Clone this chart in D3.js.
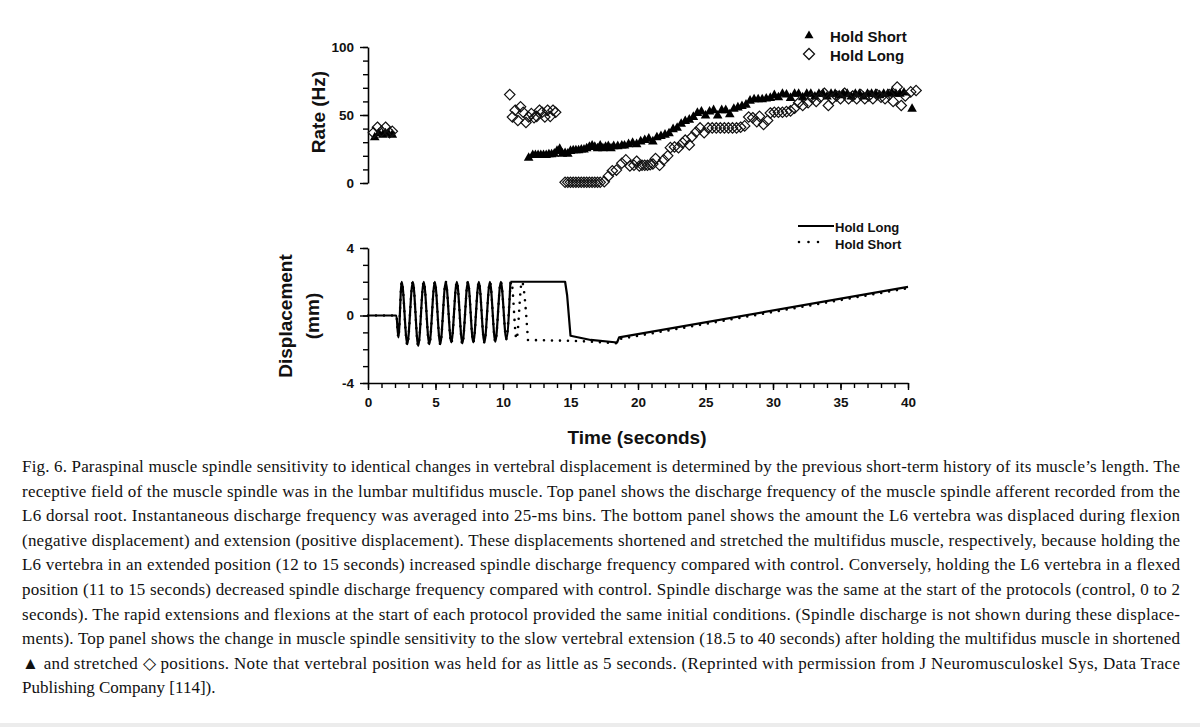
<!DOCTYPE html>
<html><head><meta charset="utf-8">
<script src="https://cdn.jsdelivr.net/npm/d3@7"></script>
<style>body{margin:0;background:#fff}svg{display:block}</style>
</head><body>
<svg id="c" width="1200" height="727"></svg>
<script>
// ---- data ----
// Top panel: discharge rate (Hz) vs time (s)  [time, rate]
const holdShortRate = [
 [0.5,34],[0.8,37],[1.1,36],[1.3,37],[1.5,37],[1.8,36],
 [11.9,19],[12.2,21],[12.4,21],[12.6,21],[12.8,21],[13.0,21],[13.2,21],[13.4,21.5],[13.6,21.5],[13.8,22],
 [14.0,24],[14.2,25.5],[14.4,22],[14.6,22.5],[14.8,22],[15.0,24],[15.2,24.5],[15.4,24.5],[15.6,24.5],[15.8,25],
 [16.0,25],[16.2,26],[16.4,27],[16.6,28],[16.8,27],[17.0,26],[17.2,28],[17.4,26],[17.6,27],[17.8,27.5],
 [18.0,26],[18.2,27.5],[18.5,27.5],[18.8,28],[19.0,28],[19.3,29],[19.6,30],[19.9,29],[20.2,31],[20.5,32],
 [20.8,33],[21.1,31],[21.4,34],[21.7,35],[22.0,36],[22.3,37],[22.6,40],[22.9,41],[23.2,44],[23.5,46],
 [23.8,47],[24.1,49],[24.4,52],[24.7,53],[25.0,50],[25.3,53],[25.6,54],[25.9,50],[26.2,54],[26.5,54],
 [26.8,51],[27.1,55],[27.4,56],[27.7,57],[28.0,58],[28.3,61],[28.6,62],[28.9,62],[29.2,62],[29.5,62.5],
 [29.8,63],[30.1,65],[30.4,63.5],[30.7,66],[31.0,65.5],[31.3,63],[31.6,66],[31.9,66],[32.2,63.5],[32.5,66],
 [32.8,66],[33.1,64],[33.4,66],[33.7,66],[34.0,64],[34.3,66],[34.6,66],[34.9,65],[35.2,66],[35.5,66],
 [35.8,64],[36.1,66],[36.4,66],[36.7,64],[37.0,66],[37.3,66],[37.6,66],[37.9,65],[38.2,66],[38.5,66],
 [38.8,67],[39.1,66],[39.4,66],[39.7,67],[40.3,55]
];
const holdLongRate = [
 [0.4,37],[0.7,41],[1.0,38],[1.3,41],[1.6,37],[1.8,38],
 [10.5,65],[10.7,48.5],[10.9,53.5],[11.1,46],[11.3,56],[11.5,52],[11.7,44.5],[11.9,48.5],[12.1,51],[12.3,48],
 [12.5,49],[12.7,53.5],[12.9,52],[13.1,48.5],[13.3,53.5],[13.5,49],[13.7,53.5],[13.9,52],
 [14.6,0.5],[14.8,0.5],[15.0,0.5],[15.2,0.5],[15.4,0.5],[15.6,0.5],[15.8,0.5],[16.0,0.5],[16.2,0.5],[16.4,0.5],
 [16.6,0.5],[16.8,0.5],[17.0,0.5],[17.2,0.5],[17.5,1],[17.8,5],[18.1,9],[18.4,9.5],[18.8,14.5],[19.1,17],
 [19.4,12.5],[19.7,13],[19.9,16],[20.1,12.5],[20.3,13],[20.5,13],[20.7,13],[20.9,13.5],[21.1,14],[21.3,18],
 [21.6,13],[21.9,17],[22.2,20],[22.4,26],[22.7,26.5],[23.0,26],[23.3,29.5],[23.5,31.5],[23.8,28],[24.0,34],
 [24.3,37.5],[24.6,40.5],[24.9,37],[25.2,40.5],[25.5,40.5],[25.8,40.5],[26.1,40.5],[26.4,40.5],[26.7,40.5],[27.0,40.5],
 [27.3,40.5],[27.6,41],[27.9,42],[28.2,48.5],[28.5,48],[28.8,45],[29.0,49],[29.3,43],[29.6,46],[29.8,51.5],
 [30.1,52],[30.4,52],[30.7,52],[31.0,52.5],[31.3,53],[31.6,55],[31.9,59],[32.2,57],[32.6,59],[32.9,62.5],
 [33.2,60],[33.5,63],[33.8,66],[34.1,57],[34.4,62],[34.7,64],[35.0,62],[35.3,66],[35.6,62],[35.9,64],
 [36.2,62],[36.5,65],[36.8,62],[37.1,64],[37.4,62],[37.7,65],[38.0,63],[38.3,62],[38.6,65],[38.9,60],
 [39.2,70.5],[39.5,57],[39.8,64],[40.2,67],[40.6,68]
];
// Bottom panel: displacement (mm) vs time (s)  [time, mm]
// rapid oscillation phase (smoothed)
const holdLongOsc = [
 [0,0],[2.1,0],[2.25,-1.3],[2.5,2],[2.91,-1.7],[3.32,2],[3.72,-1.8],[4.13,2],[4.54,-1.7],[4.95,2],
 [5.35,-1.7],[5.76,2],[6.17,-1.6],[6.58,2],[6.99,-1.65],[7.4,2],[7.8,-1.6],[8.21,2],[8.62,-1.6],[9.03,2],
 [9.43,-1.55],[9.84,2],[10.25,-1.4],[10.55,2]
];
// hold + slow extension phase (straight segments)
const holdLongRamp = [
 [10.55,2],[14.6,2],[14.75,1.2],[15.0,-1.2],[16.5,-1.45],[18.45,-1.6],[18.6,-1.3],[40,1.7]
];
const holdShortOsc = [
 [0,0],[2.1,0],[2.25,-1.3],[2.5,2],[2.91,-1.75],[3.32,2],[3.72,-1.8],[4.13,2],[4.54,-1.75],[4.95,2],
 [5.35,-1.7],[5.76,2],[6.17,-1.65],[6.58,2],[6.99,-1.7],[7.4,2],[7.8,-1.6],[8.21,2],[8.62,-1.6],[9.03,2],
 [9.43,-1.55],[9.84,2],[10.25,-1.4],[10.62,2],[11.0,-1.4],[11.4,2],[11.85,-1.45]
];
const holdShortRamp = [
 [11.85,-1.45],[15.0,-1.5],[16.5,-1.55],[18.45,-1.65],[18.6,-1.4],[40,1.62]
];
const rateTicks = [0, 50, 100];
const dispTicks = [-4, 0, 4];
const timeTicks = [0, 5, 10, 15, 20, 25, 30, 35, 40];
const caption = [
 "Fig. 6. Paraspinal muscle spindle sensitivity to identical changes in vertebral displacement is determined by the previous short-term history of its muscle\u2019s length. The",
 "receptive field of the muscle spindle was in the lumbar multifidus muscle. Top panel shows the discharge frequency of the muscle spindle afferent recorded from the",
 "L6 dorsal root. Instantaneous discharge frequency was averaged into 25-ms bins. The bottom panel shows the amount the L6 vertebra was displaced during flexion",
 "(negative displacement) and extension (positive displacement). These displacements shortened and stretched the multifidus muscle, respectively, because holding the",
 "L6 vertebra in an extended position (12 to 15 seconds) increased spindle discharge frequency compared with control. Conversely, holding the L6 vertebra in a flexed",
 "position (11 to 15 seconds) decreased spindle discharge frequency compared with control. Spindle discharge was the same at the start of the protocols (control, 0 to 2",
 "seconds). The rapid extensions and flexions at the start of each protocol provided the same initial conditions. (Spindle discharge is not shown during these displace-",
 "ments). Top panel shows the change in muscle spindle sensitivity to the slow vertebral extension (18.5 to 40 seconds) after holding the multifidus muscle in shortened",
 "\u25B2 and stretched \u25C7 positions. Note that vertebral position was held for as little as 5 seconds. (Reprinted with permission from J Neuromusculoskel Sys, Data Trace",
 "Publishing Company [114])."
];

// ---- drawing ----
const svg = d3.select("#c");
const SANS = "Liberation Sans, Arial, sans-serif";
const x = d3.scaleLinear([0, 40], [368, 908]);
const yTop = d3.scaleLinear([0, 100], [183, 47]);
const yBot = d3.scaleLinear([-4, 4], [383, 248]);
const fmt = d => String(d);

function styleAxis(g, fs) {
  g.select(".domain").attr("stroke", "#000").attr("stroke-width", 1.6);
  g.selectAll(".tick line").attr("stroke", "#000").attr("stroke-width", 1.4);
  g.selectAll("text").attr("font-family", SANS).attr("font-weight", "bold")
    .attr("font-size", fs).attr("fill", "#111");
}

// Top y axis (minor then major)
const gTopMinor = svg.append("g").attr("transform", "translate(368,0)")
  .call(d3.axisLeft(yTop).tickValues(d3.range(0, 101, 10)).tickSize(5).tickFormat("").tickSizeOuter(0));
styleAxis(gTopMinor, 13);
const gTop = svg.append("g").attr("transform", "translate(368,0)")
  .call(d3.axisLeft(yTop).tickValues(rateTicks).tickSize(8).tickPadding(6).tickSizeOuter(0).tickFormat(fmt));
styleAxis(gTop, 13.5);
gTop.select(".domain").remove();

// Bottom y axis
const gBotMinor = svg.append("g").attr("transform", "translate(368,0)")
  .call(d3.axisLeft(yBot).tickValues(d3.range(-4, 5, 1)).tickSize(5).tickFormat("").tickSizeOuter(0));
styleAxis(gBotMinor, 13);
const gBot = svg.append("g").attr("transform", "translate(368,0)")
  .call(d3.axisLeft(yBot).tickValues(dispTicks).tickSize(8).tickPadding(6).tickSizeOuter(0).tickFormat(fmt));
styleAxis(gBot, 13.5);
gBot.select(".domain").remove();

// Bottom x axis
const gXMinor = svg.append("g").attr("transform", "translate(0,383)")
  .call(d3.axisBottom(x).tickValues(d3.range(0, 41, 1)).tickSize(5).tickFormat("").tickSizeOuter(0));
styleAxis(gXMinor, 13);
const gX = svg.append("g").attr("transform", "translate(0,383)")
  .call(d3.axisBottom(x).tickValues(timeTicks).tickSize(7).tickPadding(7).tickSizeOuter(0).tickFormat(fmt));
styleAxis(gX, 13.5);
gX.select(".domain").remove();

// Axis titles
function title(tr, txt) {
  svg.append("text").attr("transform", tr)
    .attr("text-anchor", "middle").attr("dominant-baseline", "central")
    .attr("font-family", SANS).attr("font-weight", "bold").attr("font-size", 19).attr("fill", "#111")
    .text(txt);
}
title("translate(318,112) rotate(-90)", "Rate (Hz)");
title("translate(285,316) rotate(-90)", "Displacement");
title("translate(312,316) rotate(-90)", "(mm)");
title("translate(637,437)", "Time (seconds)");

// Top panel markers
const triPath = "M0,-5L4.8,3.6L-4.8,3.6Z";
const diaPath = "M0,-5.2L5.2,0L0,5.2L-5.2,0Z";
svg.append("g").selectAll("path").data(holdShortRate).join("path")
  .attr("d", triPath).attr("transform", d => `translate(${x(d[0])},${yTop(d[1])})`)
  .attr("fill", "#000");
svg.append("g").selectAll("path").data(holdLongRate).join("path")
  .attr("d", diaPath).attr("transform", d => `translate(${x(d[0])},${yTop(d[1])})`)
  .attr("fill", "none").attr("stroke", "#111").attr("stroke-width", 1.2);

// Top legend
svg.append("path").attr("d", "M0,-4.5L4.5,3.2L-4.5,3.2Z").attr("transform", "translate(809,35)").attr("fill", "#000");
svg.append("path").attr("d", "M0,-5.5L5.5,0L0,5.5L-5.5,0Z").attr("transform", "translate(809,54)")
  .attr("fill", "none").attr("stroke", "#111").attr("stroke-width", 1.3);
[["Hold Short", 36], ["Hold Long", 55]].forEach(([t, yy]) =>
  svg.append("text").attr("x", 830).attr("y", yy).attr("dominant-baseline", "central")
    .attr("font-family", SANS).attr("font-weight", "bold").attr("font-size", 15).attr("fill", "#111").text(t));

// Bottom panel lines
const smooth = d3.line().x(d => x(d[0])).y(d => yBot(d[1])).curve(d3.curveMonotoneX);
const straight = d3.line().x(d => x(d[0])).y(d => yBot(d[1]));
const dotted = p => p.attr("fill", "none").attr("stroke", "#000").attr("stroke-width", 2.6)
  .attr("stroke-linecap", "round").attr("stroke-dasharray", "0 8");
const solid = p => p.attr("fill", "none").attr("stroke", "#000").attr("stroke-width", 2.2)
  .attr("stroke-linejoin", "round");
svg.append("path").datum(holdShortOsc).attr("d", smooth).call(dotted);
svg.append("path").datum(holdShortRamp).attr("d", straight).call(dotted);
svg.append("path").datum(holdLongOsc).attr("d", smooth).call(solid);
svg.append("path").datum(holdLongRamp).attr("d", straight).call(solid);

// Bottom legend
svg.append("line").attr("x1", 798).attr("x2", 834).attr("y1", 226).attr("y2", 226)
  .attr("stroke", "#000").attr("stroke-width", 2.2);
svg.append("line").attr("x1", 799).attr("x2", 820).attr("y1", 242).attr("y2", 242)
  .attr("stroke", "#000").attr("stroke-width", 2.6).attr("stroke-linecap", "round").attr("stroke-dasharray", "0 9.5");
[["Hold Long", 227], ["Hold Short", 244]].forEach(([t, yy]) =>
  svg.append("text").attr("x", 835).attr("y", yy).attr("dominant-baseline", "central")
    .attr("font-family", SANS).attr("font-weight", "bold").attr("font-size", 13).attr("fill", "#111").text(t));

// Caption (justified lines)
const cap = svg.append("g").attr("font-family", "Liberation Serif, Times New Roman, serif")
  .attr("font-size", 17).attr("fill", "#111");
caption.forEach((ln, i) => {
  const t = cap.append("text").attr("x", 22).attr("y", 472 + i * 24.6).text(ln);
  if (i < caption.length - 1) t.attr("textLength", 1158).attr("lengthAdjust", "spacing");
});

// bottom grey strip
svg.append("rect").attr("x", 0).attr("y", 723).attr("width", 1200).attr("height", 4).attr("fill", "#ececec");
</script>
</body></html>
